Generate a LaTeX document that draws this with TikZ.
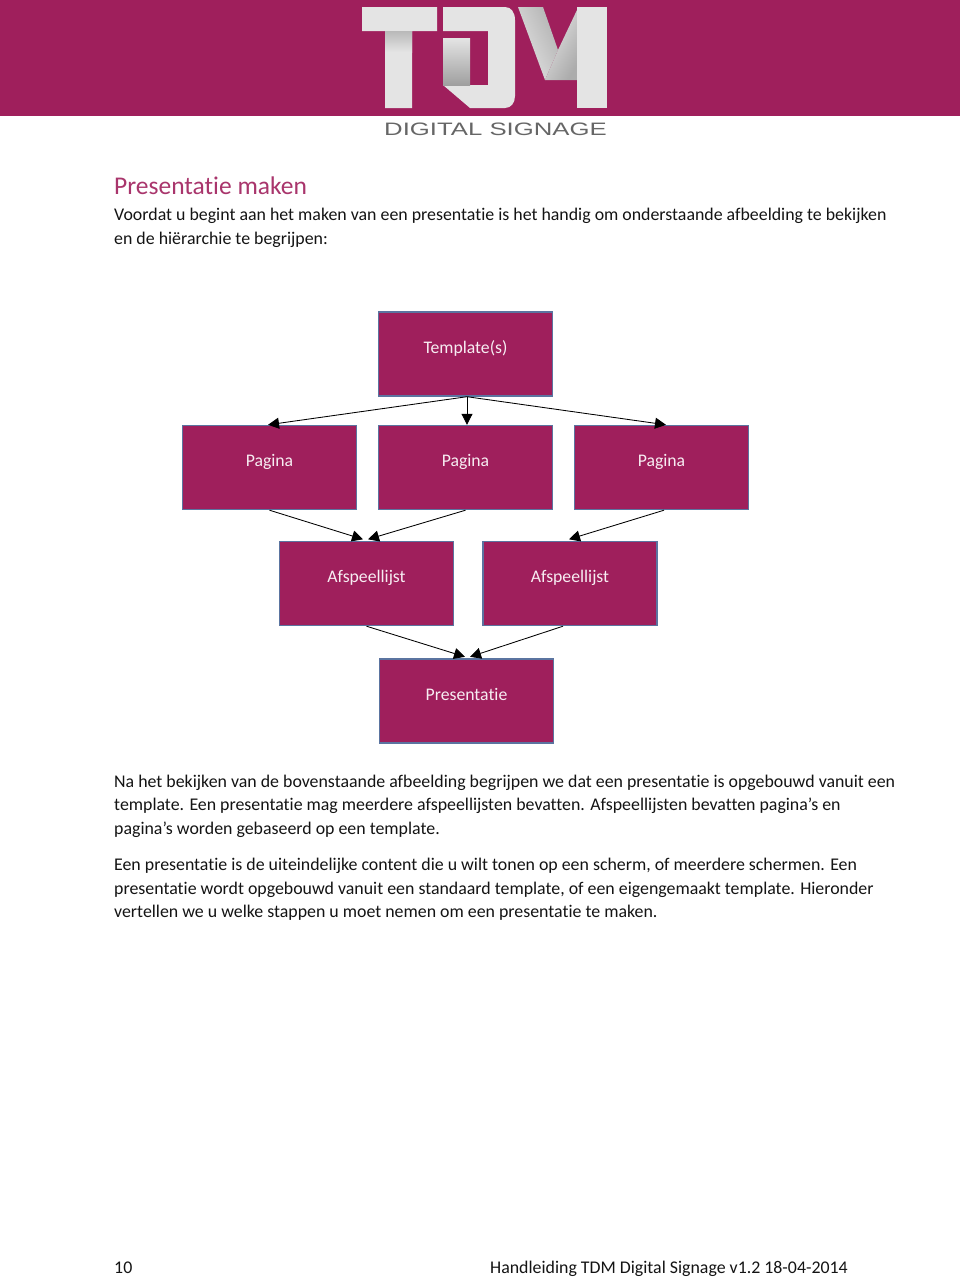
\documentclass[tikz,border=0pt]{standalone}
\usepackage{fontspec}
\setmainfont{Carlito}[Ligatures=NoCommon]
\newfontfamily\merkfont{Liberation Sans}
\usetikzlibrary{arrows.meta}
\definecolor{tdmred}{HTML}{9F1F5C}
\definecolor{tdmline}{HTML}{5B74A0}
\definecolor{tdmgray}{HTML}{E4E4E4}
\tikzset{
    blok/.style={draw=tdmline, line width=1.4pt, fill=tdmred, text=white!92!tdmred, minimum width=174pt, minimum height=84pt, inner sep=0pt, text height=12pt, text depth=14pt, font=\fontsize{17.7}{20}\selectfont},
    pijl/.style={-{Triangle[length=11pt,width=11pt]}, line width=0.85pt, black},
    regel/.style={anchor=base west, inner sep=0pt, text=black!92, font=\fontsize{17.85}{20}\selectfont},
}
\begin{document}
\begin{tikzpicture}[x=1pt,y=-1pt]
    \useasboundingbox (0,0) rectangle (960,1278);
    \fill[white] (0,0) rectangle (960,1278);

    % kop met logo
    \fill[tdmred] (0,0) rectangle (960,116);
    \fill[tdmgray] (362,7) -- (437,7) -- (437,31) -- (412,31) -- (412,108) -- (385,108) -- (385,31) -- (362,31) -- cycle;
    \shade[top color=gray!55, bottom color=tdmgray] (385,31) rectangle (412,52);
    \fill[tdmgray] (443,7) -- (505,7) .. controls (511,7) and (515,12) .. (515,20) -- (515,96) .. controls (515,103) and (511,108) .. (505,108) -- (470,108) -- (443,85) -- (488,85) -- (488,31) -- (443,31) -- cycle;
    \shade[top color=tdmgray, bottom color=gray!75] (443,38) rectangle (470,85);
    \shade[left color=tdmgray, right color=gray!60, shading angle=115] (518,7) -- (543,7) -- (558,50) -- (545,80) -- cycle;
    \shade[left color=tdmgray, right color=gray!65, shading angle=60] (545,80) -- (558,50) -- (577,10) -- (577,80) -- cycle;
    \fill[tdmgray] (577,7) rectangle (607,108);
    \node[anchor=base west, inner sep=0pt, text=black!60, font=\merkfont\fontsize{18}{20}\selectfont] (merk) at (384,135) {\scalebox{1.43}[1]{DIGITAL SIGNAGE}};

    % tekst boven
    \node[regel, text=tdmred!90, font=\fontsize{25.5}{28}\selectfont] (kop) at (114,194) {Presentatie maken};
    \node[regel] (r1) at (114,220) {Voordat u begint aan het maken van een presentatie is het handig om onderstaande afbeelding te bekijken};
    \node[regel] (r2) at (114,244) {en de hiërarchie te begrijpen:};

    % blokken
    \node[blok] (template) at (465.5,354) {Template(s)};
    \node[blok] (pagina1) at (269.5,467.5) {Pagina};
    \node[blok] (pagina2) at (465.5,467.5) {Pagina};
    \node[blok] (pagina3) at (661.5,467.5) {Pagina};
    \node[blok] (lijst1) at (366.5,583.5) {Afspeellijst};
    \node[blok] (lijst2) at (570,583.5) {Afspeellijst};
    \node[blok] (presentatie) at (466.5,701) {Presentatie};

    % pijlen
    \draw[pijl] ([xshift=1.5pt]template.south) -- ([xshift=-1.5pt]pagina1.north);
    \draw[pijl] ([xshift=1.5pt]template.south) -- ([xshift=1.5pt]pagina2.north);
    \draw[pijl] ([xshift=1.5pt]template.south) -- ([xshift=4.5pt]pagina3.north);
    \draw[pijl] (pagina1.south) -- ([xshift=-3.5pt,yshift=1.5pt]lijst1.north);
    \draw[pijl] (pagina2.south) -- ([xshift=1.5pt,yshift=1.5pt]lijst1.north);
    \draw[pijl] ([xshift=2.5pt]pagina3.south) -- ([xshift=-1pt,yshift=1.5pt]lijst2.north);
    \draw[pijl] (lijst1.south) -- ([xshift=-1.5pt,yshift=1.5pt]presentatie.north);
    \draw[pijl] ([xshift=-7pt]lijst2.south) -- ([xshift=3.5pt,yshift=1.5pt]presentatie.north);

    % tekst onder
    \node[regel] (r3) at (114,787) {Na het bekijken van de bovenstaande afbeelding begrijpen we dat een presentatie is opgebouwd vanuit een};
    \node[regel] (r4) at (114,810) {template. Een presentatie mag meerdere afspeellijsten bevatten. Afspeellijsten bevatten pagina’s en};
    \node[regel] (r5) at (114,834) {pagina’s worden gebaseerd op een template.};
    \node[regel] (r6) at (114,870) {Een presentatie is de uiteindelijke content die u wilt tonen op een scherm, of meerdere schermen. Een};
    \node[regel] (r7) at (114,894) {presentatie wordt opgebouwd vanuit een standaard template, of een eigengemaakt template. Hieronder};
    \node[regel] (r8) at (114,917) {vertellen we u welke stappen u moet nemen om een presentatie te maken.};

    % voettekst
    \node[regel] (pagnr) at (114,1273) {10};
    \node[regel] (voet) at (490,1273) {Handleiding TDM Digital Signage v1.2 18-04-2014};
\end{tikzpicture}
\end{document}
